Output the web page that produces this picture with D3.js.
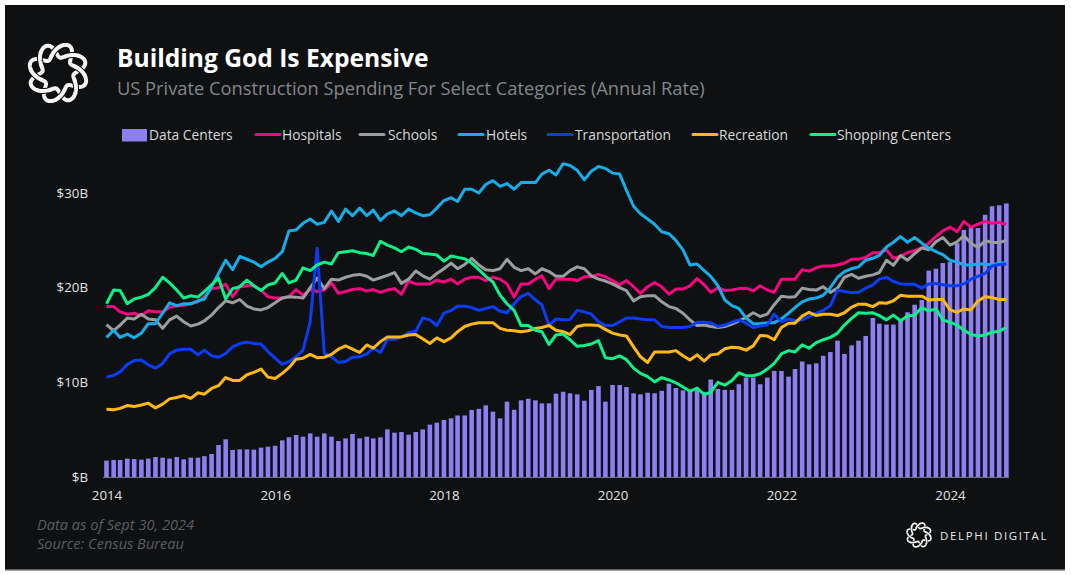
<!DOCTYPE html>
<html>
<head>
<meta charset="utf-8">
<script src="https://cdn.jsdelivr.net/npm/d3@7"></script>
<style>
  body { margin: 0; background: #fff; }
  text { font-family: "Open Sans", sans-serif; }
</style>
</head>
<body>
<svg id="chart" width="1071" height="575"></svg>
<script>
// values in $B, monthly Jan 2014 - Sep 2024
const dataCenters = [
  1.73,1.8,1.8,1.94,1.9,1.83,1.94,2.11,2.04,1.94,
  2.11,1.87,2.04,2.04,2.2,2.43,3.38,3.98,2.85,2.92,
  2.92,2.89,3.1,3.2,3.3,3.87,4.19,4.44,4.26,4.6,
  4.26,4.6,4.26,3.8,4.08,4.54,4.08,4.26,4.08,4.19,
  5.03,4.68,4.75,4.47,4.75,5.03,5.53,5.74,6.02,6.2,
  6.5,6.5,7.08,7.2,7.57,6.9,6.2,7.96,7.1,8.1,
  8.27,8.1,7.78,7.78,8.8,9.0,8.84,8.73,8.06,9.2,
  9.6,7.96,9.72,9.72,9.5,8.84,8.73,8.9,8.84,9.1,
  9.86,9.4,9.15,9.0,9.4,9.0,10.3,9.3,9.2,9.2,
  9.8,10.5,10.5,9.8,10.5,11.2,11.2,10.6,11.4,12.2,
  11.9,12.0,12.8,13.2,14.4,13.0,13.9,14.4,14.9,16.8,
  16.2,16.1,16.1,16.6,17.4,18.2,18.7,21.8,22.0,22.6,
  22.7,24.7,26.1,26.4,26.3,27.7,28.6,28.7,28.9
]
const hospitals = [
  18,18,17.45,17.2,17.3,17.05,17.55,17.45,17.45,17.9,
  18.05,18.15,18.3,18.5,19.05,19.9,20,20.35,19.05,20.1,
  20.2,20.2,19.75,19.05,18.9,18.9,19.05,19.8,19.2,19.8,
  19.6,19.75,20.5,19.4,19.6,19.8,19.9,19.65,19.8,19.5,
  19.75,19.9,19.3,20.7,20.4,20.4,20.4,20.8,20.6,20.9,
  20.4,20.9,21.1,21.1,20.75,21.1,20.9,20.4,19,20.4,
  20.4,20.9,21.25,19.9,20.9,20.9,20.9,20.75,21.15,21.15,
  21.4,21.15,20.75,20.3,20.75,20.1,19.4,20.1,20.55,20.1,
  19.3,19.85,19.85,20.2,20.95,20.3,19.5,20,19.7,19.75,
  19.9,19.95,19.65,20.2,19.75,19.5,20.9,20.9,20.9,21.9,
  21.75,22.1,22.3,22.3,22.4,22.6,23,23,23.2,23.7,
  23.7,24,23.1,23.3,23.7,23.9,24.2,24.7,25.4,26,
  26.4,25.9,27,26.4,26.7,27,26.8,26.9,26.7
]
const schools = [
  16.1,15.45,16.05,16.8,16.7,17.2,16.7,16.6,15.7,16.6,
  17,16.4,15.95,16.15,16.5,17.1,17.9,18.6,18.4,18.75,
  18.05,17.75,17.65,17.9,18.4,18.9,19.05,19,18.9,20,
  21,19.9,20.9,20.8,21.1,21.3,21.4,21.2,20.8,21.05,
  21.3,21.6,20.45,20.9,21.75,21.25,20.9,21.5,22,22.6,
  22,22.45,23.1,22.4,21.9,21.8,22,23,22.15,21.8,
  22,21.45,22,21.7,21.2,21.2,21.8,22.2,22,21.25,
  20.9,20.7,20.4,20,19.7,18.6,19.05,19.15,19.15,18.5,
  18,17.8,17.3,16.6,16,16.05,15.9,15.8,15.9,16.15,
  16.5,16.85,17.35,16.95,17.2,18.2,19.1,19,19.05,19.95,
  19.8,19.75,20.1,19.5,19.95,21.1,21.4,21,21.2,21.35,
  21.6,22.9,22.35,23.4,22.9,23.6,24.2,24,24.85,25.3,
  24.5,24.85,25.5,24.7,24.25,24.95,24.8,24.75,25
]
const hotels = [
  14.75,15.5,14.75,15.1,14.7,15.2,16.2,16.2,17.3,18.4,
  18.1,18.3,18.3,18.6,18.8,20.1,21.5,22.9,21.9,23.3,
  23,22.7,22.2,22.7,23.1,23.8,26,26.1,26.8,27.25,
  26.7,26.9,28.1,27,28.3,27.6,28.4,27.6,28.2,27.1,
  27.8,28.1,27.6,28.3,27.9,27.6,27.7,28.4,29.2,29.5,
  29.1,30.4,30.4,30,30.9,31.3,30.7,31,30.4,31.1,
  31.1,31.1,32,32.4,31.9,33.1,32.9,32.4,31.4,32.3,
  32.8,32.6,32.1,32,30.3,28.6,27.8,27.25,26.7,25.9,
  25.7,25,24,22.4,22.5,21.8,21.2,20.2,18.7,18.1,
  17.8,16.8,16.2,16.2,16.3,16.3,16.7,17.3,17.9,18.5,
  18.8,18.9,19.2,20,21.1,21.7,22,22.2,22.9,23.1,
  23.4,24.3,24.8,25.4,24.8,25.3,24.7,24.2,23.8,23.5,
  22.9,22.7,22.4,22.4,22.5,22.5,22.4,22.6,22.6
]
const transportation = [
  10.55,10.75,11.1,11.9,12.3,12.35,11.85,11.5,12,13,
  13.4,13.5,13.5,12.9,13.4,12.8,12.65,13.05,13.75,14.1,
  14.25,14.1,14.05,13.25,12.55,11.9,12.2,12.7,13.4,16.4,
  24.15,13.05,12.7,12.1,12.2,12.65,12.7,13,13.6,13.15,
  14.55,14.55,14.8,15.25,15.4,16.8,16.6,16,17.3,17.6,
  18.05,18.05,17.9,17.6,17.8,18,17.5,17.35,18.3,19.05,
  19.4,18.7,18.2,16,16.7,16.6,16.65,17.6,17.45,17.2,
  16.4,16,16,16.4,16.8,16.8,16.7,16.6,16.6,15.9,
  15.8,15.8,15.8,15.9,16.35,16.35,16.3,15.9,16.05,16.35,
  16.6,16.25,15.8,15.95,16.05,17.2,16.4,16.7,16.5,16.6,
  16.95,17.3,17.6,18.1,19.75,19.6,19.5,19.5,19.95,20.3,
  20.9,21.1,20.65,20.4,20.35,20.35,19.95,20.4,20.45,20.3,
  20.2,20.2,20.4,20.9,21.2,21.5,22.3,22.45,22.5
]
const recreation = [
  7.15,7.1,7.25,7.55,7.45,7.6,7.8,7.3,7.7,8.25,
  8.4,8.6,8.3,8.9,8.75,9.35,9.65,10.5,10.2,10.2,
  10.8,11.05,11.4,10.55,10.4,10.95,11.55,12.45,12.55,12.95,
  12.6,12.65,12.95,13.5,13.85,13.5,13.15,13.95,13.6,14.3,
  14.8,14.8,14.8,15,15.05,14.6,14.1,14.7,14.3,14.7,
  15.35,15.9,16.15,16.3,16.3,16.3,15.7,15.5,15.45,15.35,
  15.45,15.7,15.8,16,15.5,15.35,15.05,15.9,16.05,16.05,
  16,15.6,15.2,15,14.9,13.75,12.7,12.1,13.2,13.2,
  13.2,13.35,12.8,12.35,12.9,12.25,12.9,13,13.55,13.7,
  13.65,13.4,13.85,14.95,14.9,14.5,15.8,16.25,16.25,17,
  17.4,17.05,17.2,17.2,17.05,17.35,17.95,18.25,18.25,18,
  18.4,18.35,18.6,19.2,19.1,19.1,19.1,18.7,18.75,18.75,
  17.65,17.4,17.75,17.65,18.6,19.05,18.95,18.75,18.75
]
const shoppingCenters = [
  18.3,19.75,19.7,18.3,18.8,19,19.3,20,21.1,20.5,
  19.75,18.9,19.15,19,19.6,20.3,21,18.8,19.9,20.1,
  20.8,20.2,19.7,20.3,20.5,21.5,20.5,20.8,22.1,21.8,
  22.4,22.7,22.5,23.7,23.8,23.9,23.7,23.6,23.4,24.9,
  24.5,24.2,23.8,24.3,24.05,23.6,23.55,23.45,22.8,23.35,
  23.2,23.05,22.6,21.9,21.2,20.6,19.2,18.3,17.6,16,
  16,15.5,15.35,14,15,15.1,14.5,13.8,13.9,14.05,
  14.4,12.6,12.5,12.8,12.4,11.5,10.95,10.6,10.05,10.5,
  10.25,9.95,9.5,9.05,9.4,8.7,8.95,10,9.7,10.2,
  11,10.7,10.7,10.9,11.4,12,13,13.35,13.2,13.95,
  13.6,14.2,14.5,14.75,15.2,16.05,16.75,17.35,17.3,17.35,
  17.05,16.6,17.1,16.5,17,17.1,17.9,17.55,17.75,16.6,
  16.35,16.05,15.5,15.05,14.9,15,15.3,15.4,15.8
]
const yTicks = [0, 10, 20, 30]
const yearTicks = [2014, 2016, 2018, 2020, 2022, 2024]

const lineNames = ['Hospitals', 'Schools', 'Hotels', 'Transportation', 'Recreation', 'Shopping Centers']
const lineValues = [hospitals, schools, hotels, transportation, recreation, shoppingCenters]
const lineColors = ['#f5087f', '#9b9d9e', '#16ade8', '#0a3df5', '#fdb813', '#0ef08a']
const barColor = '#8f7df2'
const panel = '#0e1012'

const months = dataCenters.map((d, i) => new Date(Date.UTC(2014, i, 1)))

const svg = d3.select('#chart')

// dark panel
svg.append('rect').attr('x', 5).attr('y', 5).attr('width', 1060).attr('height', 564).attr('fill', panel)
svg.append('rect').attr('x', 5).attr('y', 569).attr('width', 1060).attr('height', 1.5).attr('fill', '#55575a')

const x = d3.scaleUtc().domain([new Date(Date.UTC(2014, 0, 1)), new Date(Date.UTC(2024, 0, 1))]).range([106.5, 950])
const y = d3.scaleLinear().domain([0, 30]).range([477, 193])

// bars
svg.append('g').selectAll('rect').data(dataCenters).join('rect')
  .attr('x', (d, i) => x(months[i]) - 2.3)
  .attr('width', 4.6)
  .attr('y', d => y(d))
  .attr('height', d => y(0) - y(d))
  .attr('fill', barColor)

// axes
const xAxis = d3.axisBottom(x)
  .tickValues(yearTicks.map(yr => new Date(Date.UTC(yr, 0, 1))))
  .tickFormat(d3.utcFormat('%Y'))
  .tickSize(0)
  .tickPadding(14)
const gx = svg.append('g').attr('transform', 'translate(0,477)').call(xAxis)
gx.select('.domain').remove()
gx.selectAll('text').attr('fill', '#e4e4e4').style('font-size', '13.3px')
svg.append('line').attr('x1', 103).attr('x2', 1009).attr('y1', 477.5).attr('y2', 477.5).attr('stroke', '#77797c').attr('stroke-width', 1)

// the zero tick reads "$B" in the original
const yAxis = d3.axisLeft(y).tickValues(yTicks).tickFormat(d => d ? '$' + d + 'B' : '$B').tickSize(0).tickPadding(0)
const gy = svg.append('g').attr('transform', 'translate(88,0)').call(yAxis)
gy.select('.domain').remove()
gy.selectAll('text').attr('fill', '#e4e4e4').style('font-size', '13.3px')

// lines
const line = d3.line().x((d, i) => x(months[i])).y(d => y(d))
svg.append('g').selectAll('path').data(lineValues).join('path')
  .attr('d', line)
  .attr('fill', 'none')
  .attr('stroke', (d, i) => lineColors[i])
  .attr('stroke-width', 3)
  .attr('stroke-linejoin', 'round')

// braided logo, two wavy loops woven over and under
function logo (cx, cy, R, amp, sw, lobes) {
  const g = svg.append('g').attr('transform', `translate(${cx},${cy}) rotate(-8)`)
  const skew = 0.1
  const strand = (sign, angles) => d3.line()
    .x(a => (R + sign * amp * Math.sin(lobes * a)) * Math.sin(a + sign * skew * Math.sin(lobes * a)))
    .y(a => -(R + sign * amp * Math.sin(lobes * a)) * Math.cos(a + sign * skew * Math.sin(lobes * a)))(angles)
  const full = d3.range(0, 2 * Math.PI + 0.03, 0.02)
  ;[1, -1].forEach(sign => {
    g.append('path').attr('d', strand(sign, full)).attr('fill', 'none').attr('stroke', '#f4f4f4').attr('stroke-width', sw)
  })
  // redraw a short piece of the upper strand at each crossing
  d3.range(lobes * 2).forEach(n => {
    const mid = n * Math.PI / lobes
    const sign = n % 2 ? -1 : 1
    g.append('path').attr('d', strand(sign, d3.range(mid - 0.14, mid + 0.141, 0.02))).attr('fill', 'none').attr('stroke', panel).attr('stroke-width', sw * 1.5)
    g.append('path').attr('d', strand(sign, d3.range(mid - 0.18, mid + 0.181, 0.02))).attr('fill', 'none').attr('stroke', '#f4f4f4').attr('stroke-width', sw)
  })
}
logo(58, 73, 22.5, 7, 4, 4)
logo(919, 535, 9.5, 3, 1.7, 4)

// titles
svg.append('text').attr('x', 117).attr('y', 67).text('Building God Is Expensive')
  .attr('fill', '#fff').style('font-size', '24.6px').style('font-weight', 700)
svg.append('text').attr('x', 117).attr('y', 95).text('US Private Construction Spending For Select Categories (Annual Rate)')
  .attr('fill', '#83878b').style('font-size', '18.3px')

// legend
const legendY = 134.5
svg.append('rect').attr('x', 122).attr('y', 129).attr('width', 25).attr('height', 12.5).attr('fill', barColor)
svg.append('text').attr('x', 149).attr('y', legendY + 5).text('Data Centers').attr('fill', '#d8d8d8').style('font-size', '13.8px')
const legendSwatchX = [256, 360, 459, 548, 693, 811]
const legendTextX = [282, 388, 486, 575, 719, 837]
lineNames.forEach((name, i) => {
  svg.append('line').attr('x1', legendSwatchX[i]).attr('x2', legendSwatchX[i] + 24)
    .attr('y1', legendY).attr('y2', legendY)
    .attr('stroke', lineColors[i]).attr('stroke-width', 3).attr('stroke-linecap', 'round')
  svg.append('text').attr('x', legendTextX[i]).attr('y', legendY + 5).text(name)
    .attr('fill', '#d8d8d8').style('font-size', '13.8px')
})

// footer
svg.append('text').attr('x', 37).attr('y', 530).text('Data as of Sept 30, 2024')
  .attr('fill', '#5c5e61').style('font-size', '14.6px').style('font-style', 'italic')
svg.append('text').attr('x', 37).attr('y', 549).text('Source: Census Bureau')
  .attr('fill', '#5c5e61').style('font-size', '14.6px').style('font-style', 'italic')
svg.append('text').attr('x', 940).attr('y', 539.5).text('DELPHI DIGITAL')
  .attr('fill', '#e8e8e8').style('font-size', '11.5px').style('letter-spacing', '1.65px')
</script>
</body>
</html>
